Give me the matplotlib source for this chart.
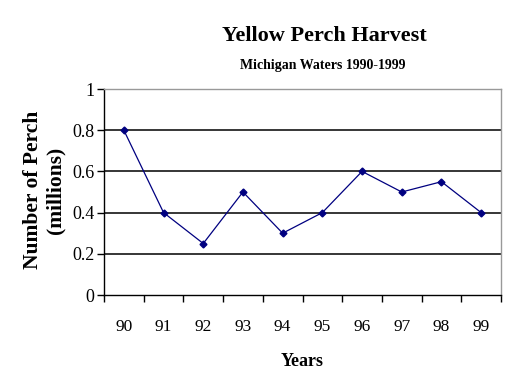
import matplotlib
matplotlib.use("Agg")
import matplotlib.pyplot as plt
import numpy as np

years = ["90", "91", "92", "93", "94", "95", "96", "97", "98", "99"]
harvest = [0.8, 0.4, 0.25, 0.5, 0.3, 0.4, 0.6, 0.5, 0.55, 0.4]
yticks = [0, 0.2, 0.4, 0.6, 0.8, 1]
ytick_labels = ["0", "0.2", "0.4", "0.6", "0.8", "1"]

plt.rcParams['font.family'] = ['Liberation Serif', 'DejaVu Serif']

W, H = 525, 389
fig = plt.figure(figsize=(W / 100, H / 100), dpi=100)
ax = fig.add_axes([104 / W, 1 - 295 / H, (501 - 104) / W, (295 - 89) / H])

x = np.arange(len(years))
ax.plot(x, harvest, color="#000080", linewidth=0.9, marker="D", markersize=3.5,
        markerfacecolor="#000080", markeredgecolor="#000080", zorder=3)

ax.set_xlim(-0.5, len(years) - 0.5)
ax.set_ylim(0, 1)
ax.set_yticks(yticks)
ax.set_yticklabels(ytick_labels, fontsize=13)
for yv in yticks[1:-1]:
    ax.axhline(yv, color="black", linewidth=1.1, zorder=1)

ax.set_xticks(x)
ax.set_xticklabels(years, fontsize=12.5)
ax.set_xticks(np.arange(-0.5, len(years)), minor=True)
ax.tick_params(axis="x", which="major", length=0, pad=17)
ax.tick_params(axis="x", which="minor", length=5, width=1, direction="out", color="black")
ax.tick_params(axis="y", length=5, width=1, direction="out", pad=2)

for s in ["top", "right"]:
    ax.spines[s].set_color("#999999")
    ax.spines[s].set_linewidth(1)
for s in ["left", "bottom"]:
    ax.spines[s].set_color("black")
    ax.spines[s].set_linewidth(1)

fig.text(324 / W, 1 - 36 / H, "Yellow Perch Harvest", ha="center", va="center",
         fontsize=16, fontweight="bold")
fig.text(323 / W, 1 - 65 / H, "Michigan Waters 1990-1999", ha="center", va="center",
         fontsize=10, fontweight="bold")
fig.text(33 / W, 1 - 190 / H, "Number of Perch", ha="center", va="center",
         rotation=90, fontsize=15.5, fontweight="bold")
fig.text(55 / W, 1 - 190 / H, "(millions)", ha="center", va="center",
         rotation=90, fontsize=15.5, fontweight="bold")
fig.text(302 / W, 1 - 362 / H, "Years", ha="center", va="center",
         fontsize=13, fontweight="bold")

fig.savefig("out.png", dpi=100)
